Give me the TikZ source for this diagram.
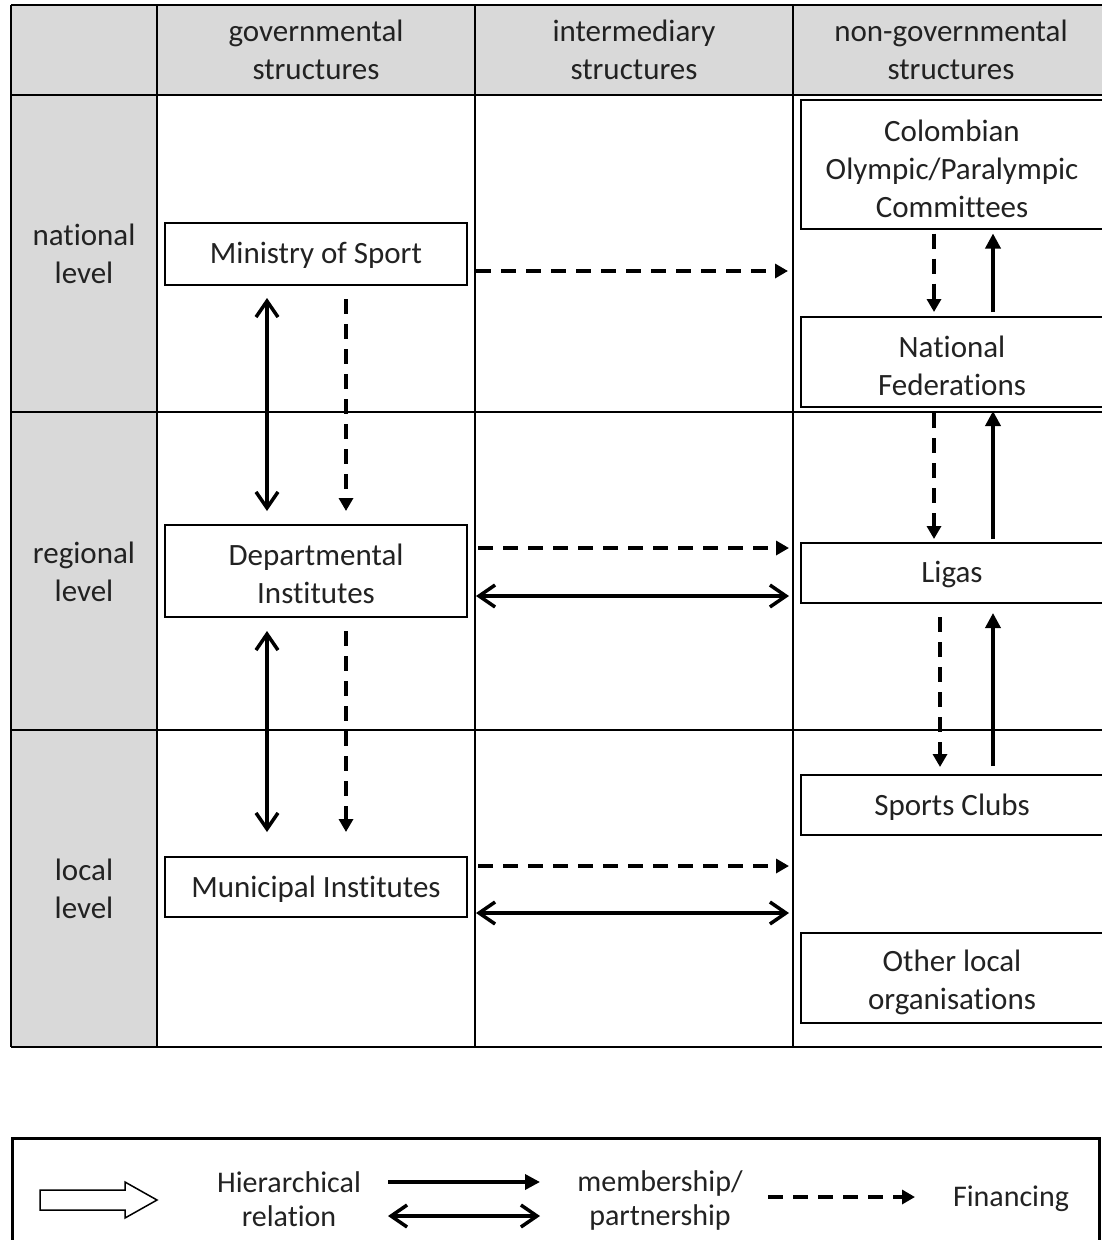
\documentclass[tikz,border=0pt]{standalone}
\usepackage{fontspec}
\setmainfont{Carlito}[Ligatures=NoCommon]
\usetikzlibrary{arrows.meta}
\definecolor{cellgray}{HTML}{D9D9D9}
\definecolor{inktext}{HTML}{222222}

\begin{document}
\begin{tikzpicture}[x=1pt,y=-1pt,
  every node/.style={font=\fontsize{31}{38}\selectfont, text=inktext, align=center, inner sep=0pt},
  gridline/.style={line width=2pt, draw=black},
  org/.style={draw=black, line width=2pt, fill=white, minimum width=302pt},
  fin/.style={line width=3.5pt, dash pattern=on 15pt off 10pt, -{Triangle[length=13pt,width=14pt]}},
  mem/.style={line width=3.5pt, {Straight Barb[length=16pt,width=22pt]}-{Straight Barb[length=16pt,width=22pt]}},
  upward/.style={line width=3.5pt, -{Triangle[length=15pt,width=15pt]}},
  legendtext/.style={font=\fontsize{30}{34}\selectfont},
]
\useasboundingbox (0,0) rectangle (1102,1240);
\fill[white] (0,0) rectangle (1102,1240);

% table: shaded header row and level column
\fill[cellgray] (11,5) rectangle (1110,95);
\fill[cellgray] (11,95) rectangle (157,1047);
\foreach \yy in {5,95,412,730,1047} \draw[gridline] (11,\yy) -- (1110,\yy);
\foreach \xx in {11,157,475,793} \draw[gridline] (\xx,5) -- (\xx,1047);

% column headers
\node (hgov) at (316,50) {governmental\\structures};
\node (hint) at (634,50) {intermediary\\structures};
\node (hngo) at (951,50) {non-governmental\\structures};

% level labels
\node (lnat) at (84,254) {national\\level};
\node (lreg) at (84,572) {regional\\level};
\node (lloc) at (84,889) {local\\level};

% governmental bodies (frame, then its caption set a little low)
\node[org, minimum height=62pt] (min) at (316,254) {};
\node (mintxt) at ([yshift=-1pt]min.center) {Ministry of Sport};
\node[org, minimum height=92pt] (dep) at (316,571) {};
\node (deptxt) at ([yshift=-3pt]dep.center) {Departmental\\Institutes};
\node[org, minimum height=60pt] (mun) at (316,887) {};
\node (muntxt) at ([yshift=-2pt]mun.center) {Municipal Institutes};

% non-governmental bodies
\node[org, minimum height=129pt] (coc) at (952,164) {};
\node (coctxt) at ([yshift=-5pt]coc.center) {Colombian\\Olympic/Paralympic\\Committees};
\node[org, minimum height=90pt] (nf) at (952,362) {};
\node (nftxt) at ([yshift=-4pt]nf.center) {National\\Federations};
\node[org, minimum height=60pt] (lig) at (952,573) {};
\node (ligtxt) at ([yshift=-1pt]lig.center) {Ligas};
\node[org, minimum height=60pt] (sc) at (952,805) {};
\node (sctxt) at ([yshift=-2pt]sc.center) {Sports Clubs};
\node[org, minimum height=90pt] (olo) at (952,978) {};
\node (olotxt) at ([yshift=-4pt]olo.center) {Other local\\organisations};

% governmental chain
\draw[mem, shorten <=12pt, shorten >=13pt] ([xshift=-49pt]min.south) -- ([xshift=-49pt]dep.north);
\draw[fin, shorten <=13pt, shorten >=13pt] ([xshift=30pt]min.south) -- ([xshift=30pt]dep.north);
\draw[mem, shorten <=13pt, shorten >=24pt] ([xshift=-49pt]dep.south) -- ([xshift=-49pt]mun.north);
\draw[fin, shorten <=13pt, shorten >=24pt] ([xshift=30pt]dep.south) -- ([xshift=30pt]mun.north);

% across the levels
\draw[fin, shorten <=8pt, shorten >=12pt] ([yshift=-17pt]min.east) -- ([yshift=-17pt]min.east -| coc.west);
\draw[fin, shorten <=10pt, shorten >=11pt] ([yshift=23pt]dep.east) -- ([yshift=23pt]dep.east -| lig.west);
\draw[mem, shorten <=8pt, shorten >=11pt] ([yshift=-25pt]dep.east) -- ([yshift=-25pt]dep.east -| lig.west);
\draw[fin, shorten <=10pt, shorten >=11pt] ([yshift=21pt]mun.east) -- ([yshift=21pt]mun.east -| sc.west);
\draw[mem, shorten <=8pt, shorten >=11pt] ([yshift=-26pt]mun.east) -- ([yshift=-26pt]mun.east -| sc.west);

% non-governmental chain
\draw[fin, shorten <=4pt, shorten >=4pt] ([xshift=-18pt]coc.south) -- ([xshift=-18pt]nf.north);
\draw[upward, shorten <=4pt, shorten >=4pt] ([xshift=41pt]nf.north) -- ([xshift=41pt]coc.south);
\draw[fin, shorten <=5pt, shorten >=3pt] ([xshift=-18pt]nf.south) -- ([xshift=-18pt]lig.north);
\draw[upward, shorten <=3pt, shorten >=3pt] ([xshift=41pt]lig.north) -- ([xshift=41pt]nf.south);
\draw[fin, shorten <=13pt, shorten >=7pt] ([xshift=-12pt]lig.south) -- ([xshift=-12pt]sc.north);
\draw[upward, shorten <=8pt, shorten >=9pt] ([xshift=41pt]sc.north) -- ([xshift=41pt]lig.south);

% legend
\draw[line width=3pt] (12,1138) rectangle (1099,1260);
\draw[line width=1.5pt, fill=white] (40,1190) -- (125,1190) -- (125,1182) -- (157,1200)
  -- (125,1218) -- (125,1210) -- (40,1210) -- cycle;
\node[legendtext] (lhier) at (289,1199) {Hierarchical\\relation};
\coordinate (ka) at (388,1182);
\coordinate (kb) at (540,1182);
\coordinate (kc) at (388,1216);
\coordinate (kd) at (540,1216);
\draw[upward] (ka) -- (kb);
\draw[mem] (kc) -- (kd);
\node[legendtext] (lmem) at (660,1200) {membership/\\partnership};
\coordinate (ke) at (768,1197);
\coordinate (kf) at (915,1197);
\draw[fin] (ke) -- (kf);
\node[legendtext] (lfin) at (1011,1199) {Financing};
\end{tikzpicture}
\end{document}
